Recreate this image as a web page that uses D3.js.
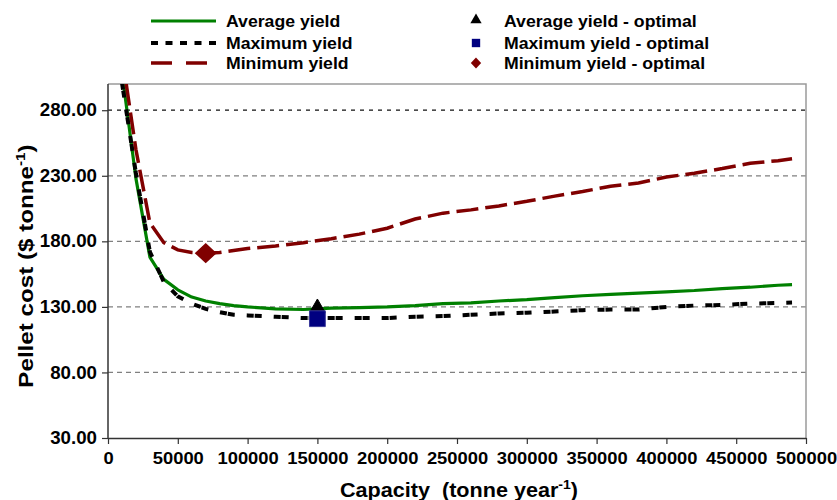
<!DOCTYPE html>
<html>
<head>
<meta charset="utf-8">
<script src="https://cdn.jsdelivr.net/npm/d3@7"></script>
<style>
  body { margin: 0; background: #fff; }
  text { font-family: "Liberation Sans", Arial, sans-serif; font-weight: bold; fill: #000; }
</style>
</head>
<body>
<svg id="chart" width="837" height="500"></svg>
<script>
// Plant capacity (tonne per year) at which pellet cost was evaluated
const capacity = [10000, 20000, 30000, 40000, 50000, 60000, 70000, 80000, 90000, 100000,
  120000, 140000, 160000, 180000, 200000, 220000, 240000, 260000, 280000, 300000,
  320000, 340000, 360000, 380000, 400000, 420000, 440000, 460000, 480000, 490000];

// Pellet cost ($ per tonne) for each biomass yield scenario
const averageYield = [309, 228, 168, 151, 143, 137.5, 134.5, 132.5, 131, 130,
  128.5, 128, 129, 129.5, 130, 131, 132.5, 133, 134.5, 135.5,
  137, 138.5, 139.5, 140.5, 141.5, 142.5, 144, 145, 146.5, 147];
const maximumYield = [301, 232, 172, 149, 138, 132.5, 128.5, 126, 124, 123.5,
  122.5, 121.5, 121.5, 121.5, 121.5, 122.5, 123, 124, 125, 125.5,
  126.5, 127.5, 128, 128, 130, 131, 131.5, 132.5, 133, 133.3];
const minimumYield = [322, 250, 194, 179, 173.5, 171.5, 171, 171.5, 173, 174.5,
  176.5, 179, 182, 185.5, 190, 197, 201.5, 204, 207, 210.5,
  214.5, 218, 222, 224.5, 229, 232, 235.5, 239.5, 241.5, 243];

// Optimal plant size for each scenario (average, maximum, minimum)
const optimalCapacity = [150000, 150000, 70000];
const optimalCost = [129, 121, 171];

// Axis ticks
const yTicks = [30, 80, 130, 180, 230, 280];
const xTicks = [0, 50000, 100000, 150000, 200000, 250000, 300000, 350000, 400000, 450000, 500000];

const svg = d3.select("#chart");
const plotLeft = 108, plotRight = 806, plotTop = 84, plotBottom = 438;

const x = d3.scaleLinear().domain([0, 500000]).range([plotLeft, plotRight]);
const y = d3.scaleLinear().domain([30, 300]).range([plotBottom, plotTop]);

// Widen a text element horizontally by factor k
function stretch(sel, k) {
  sel.each(function () {
    const w = this.getComputedTextLength();
    d3.select(this).attr("textLength", w * k).attr("lengthAdjust", "spacingAndGlyphs");
  });
}

// Horizontal gridlines
svg.append("g").selectAll("line")
  .data(yTicks.filter(d => d > 30))
  .join("line")
  .attr("x1", plotLeft).attr("x2", plotRight)
  .attr("y1", d => y(d)).attr("y2", d => y(d))
  .attr("stroke", d => d === 280 ? "#111" : "#808080")
  .attr("stroke-width", 1.3)
  .attr("stroke-dasharray", d => d === 280 ? "4,5" : "5,4");

// Plot-area frame (top and right)
svg.append("path")
  .attr("d", `M${plotLeft},${plotTop}H${plotRight}V${plotBottom}`)
  .attr("fill", "none").attr("stroke", "#9a9a9a").attr("stroke-width", 1.5);

// Y axis
const yAxis = svg.append("g")
  .attr("transform", `translate(${plotLeft},0)`)
  .call(d3.axisLeft(y).tickValues(yTicks).tickFormat(d3.format(".2f")).tickSize(6).tickSizeOuter(0).tickPadding(5));
yAxis.select(".domain").attr("d", `M0,${plotBottom}V${plotTop}`).attr("stroke", "#333").attr("stroke-width", 1.5);
yAxis.selectAll(".tick line").attr("stroke", "#333").attr("stroke-width", 1.2);
yAxis.selectAll(".tick text").attr("font-size", 17.5).attr("font-family", null).call(stretch, 1.07);

// X axis
const xAxis = svg.append("g")
  .attr("transform", `translate(0,${plotBottom})`)
  .call(d3.axisBottom(x).tickValues(xTicks).tickFormat(d3.format("d")).tickSize(6).tickSizeOuter(0).tickPadding(8));
xAxis.select(".domain").attr("stroke", "#333").attr("stroke-width", 1.5);
xAxis.selectAll(".tick line").attr("stroke", "#333").attr("stroke-width", 1.2);
xAxis.selectAll(".tick text").attr("font-size", 17).attr("font-family", null).call(stretch, 1.08);

// Clip the curves to the plot area
svg.append("clipPath").attr("id", "plot-clip")
  .append("rect").attr("x", plotLeft).attr("y", plotTop)
  .attr("width", plotRight - plotLeft).attr("height", plotBottom - plotTop);

const line = d3.line().x((d, i) => x(capacity[i])).y(d => y(d));
const curves = svg.append("g").attr("clip-path", "url(#plot-clip)");

curves.append("path").datum(averageYield)
  .attr("d", line).attr("fill", "none")
  .attr("stroke", "#008000").attr("stroke-width", 3.2).attr("stroke-linejoin", "round");
curves.append("path").datum(maximumYield)
  .attr("d", line).attr("fill", "none")
  .attr("stroke", "#000").attr("stroke-width", 4).attr("stroke-dasharray", "7,1,7,12");
curves.append("path").datum(minimumYield)
  .attr("d", line).attr("fill", "none")
  .attr("stroke", "#800000").attr("stroke-width", 3.5).attr("stroke-dasharray", "22,7");

// Optimal points
const markerShapes = [d3.symbolTriangle, d3.symbolSquare, d3.symbolDiamond];
const markerFill = ["#000", "#000080", "#800000"];
const markerStroke = ["#000", "#3b3b9a", "#800000"];
const markerSize = [110, 250, 94];
const markerWiden = [1, 1, 1.9];

svg.append("g").selectAll("path")
  .data(optimalCapacity)
  .join("path")
  .attr("transform", (d, i) => `translate(${x(d)},${y(optimalCost[i])}) scale(${markerWiden[i]},1)`)
  .attr("d", (d, i) => d3.symbol(markerShapes[i], markerSize[i])())
  .attr("fill", (d, i) => markerFill[i])
  .attr("stroke", (d, i) => markerStroke[i]).attr("stroke-width", 1);

// Legend
const seriesNames = ["Average yield", "Maximum yield", "Minimum yield"];
const optimalNames = ["Average yield - optimal", "Maximum yield - optimal", "Minimum yield - optimal"];
const legendRows = [21, 43, 63];
const legend = svg.append("g");

legend.append("line").attr("x1", 151).attr("x2", 216).attr("y1", legendRows[0]).attr("y2", legendRows[0])
  .attr("stroke", "#008000").attr("stroke-width", 3.2);
legend.append("line").attr("x1", 151).attr("x2", 216).attr("y1", legendRows[1]).attr("y2", legendRows[1])
  .attr("stroke", "#000").attr("stroke-width", 4).attr("stroke-dasharray", "7,7.5");
legend.append("line").attr("x1", 151).attr("x2", 216).attr("y1", legendRows[2]).attr("y2", legendRows[2])
  .attr("stroke", "#800000").attr("stroke-width", 3.5).attr("stroke-dasharray", "21,14");

legend.selectAll("text.series")
  .data(seriesNames).join("text").attr("class", "series")
  .attr("x", 226).attr("y", (d, i) => legendRows[i] + 5.5)
  .attr("font-size", 16.5).text(d => d).call(stretch, 1.07);

legend.selectAll("path.opt")
  .data(optimalNames).join("path").attr("class", "opt")
  .attr("transform", (d, i) => `translate(476,${legendRows[i] - (i === 0 ? 1 : 0)}) scale(${[1, 1, 1.6][i]},1)`)
  .attr("d", (d, i) => d3.symbol(markerShapes[i], [55, 70, 36][i])())
  .attr("fill", (d, i) => markerFill[i]);

legend.selectAll("text.opt")
  .data(optimalNames).join("text").attr("class", "opt")
  .attr("x", 504).attr("y", (d, i) => legendRows[i] + 5.5)
  .attr("font-size", 16.5).text(d => d).call(stretch, 1.07);

// Axis titles
const xTitle = svg.append("text")
  .attr("transform", "translate(459,497) scale(1.08,1)")
  .attr("text-anchor", "middle").attr("font-size", 20)
  .attr("xml:space", "preserve");
xTitle.append("tspan").text("Capacity  (tonne year");
xTitle.append("tspan").attr("font-size", 13).attr("dy", -8).text("-1");
xTitle.append("tspan").attr("dy", 8).text(")");

const yTitle = svg.append("text")
  .attr("transform", "translate(33,266) rotate(-90) scale(1.18,1)")
  .attr("text-anchor", "middle").attr("font-size", 20.5);
yTitle.append("tspan").text("Pellet cost ($ tonne");
yTitle.append("tspan").attr("font-size", 13).attr("dy", -8).text("-1");
yTitle.append("tspan").attr("dy", 8).text(")");
</script>
</body>
</html>
